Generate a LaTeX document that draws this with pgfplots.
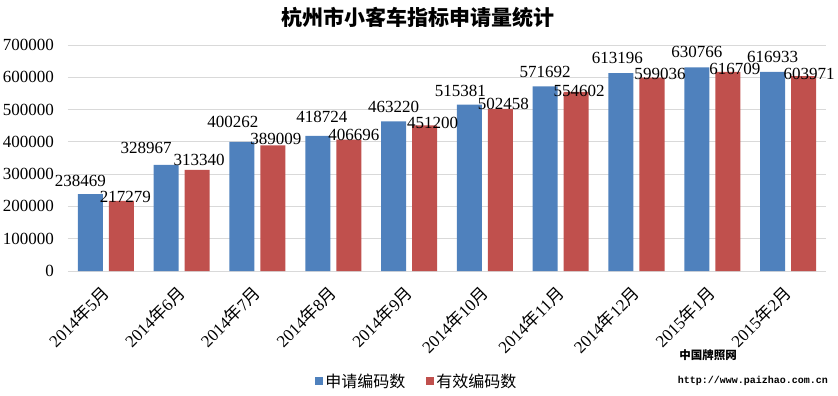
\documentclass[border=0pt]{standalone}
\usepackage{pgfplots}
\pgfplotsset{compat=1.18}
\usepackage{pgfplotstable}
\usepackage{fontspec}
\setmainfont{Liberation Serif}
\newfontfamily\cjk{Noto Sans CJK SC}
\newfontfamily\monob{Liberation Mono}
\definecolor{cblue}{HTML}{4F81BD}
\definecolor{cred}{HTML}{C0504D}
\definecolor{gridc}{HTML}{D9D9D9}

\pgfplotstableread{
x a adx ady b bdx bdy
0 238469 -10 13 217279 4 4
1 328967 -20 17 313340 2 9.5
2 400262 -9 20 389009 3 6
3 418724 4 19 406696 5 5
4 463220 0 15 451200 8 2
5 515381 -9 14 502458 3 5
6 571692 0 14 554602 3 1.5
7 613196 -3.5 15.5 599036 8 3.5
8 630766 0 15 616709 7 3
9 616933 0 15 603971 5.5 2
}\data

\begin{document}
\begin{tikzpicture}
\useasboundingbox (-68bp,-125bp) rectangle (770bp,271bp);
\begin{axis}[
  at={(0,0)}, anchor=south west,
  scale only axis, width=758bp, height=226bp,
  xmin=-0.5, xmax=9.5, ymin=0, ymax=700000,
  ybar=6bp, bar width=25bp,
  xtick={0,...,9},
  xticklabels={2014{\cjk 年}5{\cjk 月},2014{\cjk 年}6{\cjk 月},2014{\cjk 年}7{\cjk 月},2014{\cjk 年}8{\cjk 月},2014{\cjk 年}9{\cjk 月},2014{\cjk 年}10{\cjk 月},2014{\cjk 年}11{\cjk 月},2014{\cjk 年}12{\cjk 月},2015{\cjk 年}1{\cjk 月},2015{\cjk 年}2{\cjk 月}},
  ytick={0,100000,200000,300000,400000,500000,600000,700000},
  scaled y ticks=false,
  /pgf/number format/assume math mode=true,
  yticklabel style={/pgf/number format/fixed,/pgf/number format/1000 sep={}, anchor=east, inner sep=0pt, xshift=-14bp},
  xticklabel style={yshift=-19bp, rotate=45, anchor=east, inner sep=0pt},
  axis x line*=bottom, axis y line*=left,
  y axis line style={draw=none},
  x axis line style={draw=gridc, line width=0.75pt},
  major tick length=0pt,
  ymajorgrids, grid style={gridc, line width=0.75pt},
  tick label style={font=\fontsize{17bp}{20bp}\selectfont},
  nodes near coords={\pgfmathprintnumber[fixed,precision=0,1000 sep={}]{\pgfplotspointmeta}},
  nodes near coords style={font=\fontsize{17bp}{20bp}\selectfont, anchor=center, inner sep=0pt, xshift=\dx bp, yshift=\dy bp, text=black},
  legend style={at={(0.4604,-0.487)}, anchor=center, draw=none, fill=none, legend columns=2,
    font=\cjk\fontsize{16bp}{18bp}\selectfont,
    /tikz/every even column/.append style={column sep=19bp}},
  legend image code/.code={\fill[#1] (0bp,-4bp) rectangle (8bp,4bp);},
]
\addplot[fill=cblue, draw=none,
  visualization depends on={\thisrow{adx} \as \dx},
  visualization depends on={\thisrow{ady} \as \dy}] table[x=x,y=a]{\data};
\addplot[fill=cred, draw=none,
  visualization depends on={\thisrow{bdx} \as \dx},
  visualization depends on={\thisrow{bdy} \as \dy}] table[x=x,y=b]{\data};
\legend{申请编码数,有效编码数}
\end{axis}
\node[font=\cjk\bfseries\fontsize{21bp}{24bp}\selectfont] at (349.5bp,254bp) {杭州市小客车指标申请量统计};
\node[font=\cjk\bfseries\fontsize{11.5bp}{13bp}\selectfont] at (640bp,-84bp) {中国牌照网};
\node[font=\monob\bfseries\fontsize{10bp}{12bp}\selectfont] at (685bp,-110bp) {http://www.paizhao.com.cn};
\end{tikzpicture}
\end{document}
